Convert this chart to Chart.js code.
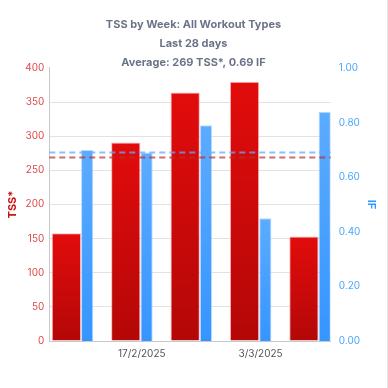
<!DOCTYPE html>
<html>
<head>
<meta charset="utf-8">
<script src="https://cdn.jsdelivr.net/npm/chart.js@4.4.1/dist/chart.umd.min.js"></script>
<style>
  html, body { margin: 0; padding: 0; background: #fff; }
  #wrap { width: 388px; height: 388px; box-sizing: border-box; border-right: 1px solid #e6e6e6; }
</style>
</head>
<body>
<div id="wrap"><canvas id="tss-chart"></canvas></div>
<script>
// Weekly data (week start dates, last 28 days)
const weekStarts = ['2025-02-10', '2025-02-17', '2025-02-24', '2025-03-03', '2025-03-10'];
const tssValues  = [158, 291, 364, 380, 153];
const ifValues   = [0.70, 0.69, 0.79, 0.45, 0.84];
const tickDates  = ['2025-02-17', '2025-03-03'];
const avgTss = 269;
const avgIf  = 0.69;
const titleLines = [
  'TSS by Week: All Workout Types',
  'Last 28 days',
  'Average: ' + avgTss + ' TSS*, ' + avgIf.toFixed(2) + ' IF',
];

(function () {
  'use strict';

  const DAY = 864e5;
  const toDay = s => Date.parse(s + 'T00:00:00Z') / DAY;

  function fmtDate(day) {
    const d = new Date(day * DAY);
    return d.getUTCDate() + '/' + (d.getUTCMonth() + 1) + '/' + d.getUTCFullYear();
  }

  // Vertical gradient from the top of each bar down to the axis
  function barGradient(top, bottom) {
    return ctx => {
      const chart = ctx.chart;
      const area  = chart.chartArea;
      if (!area || ctx.type !== 'data') return bottom;
      const scale = chart.scales[ctx.dataset.yAxisID];
      const yTop  = scale.getPixelForValue(ctx.parsed.y);
      const g = chart.ctx.createLinearGradient(0, yTop, 0, area.bottom);
      g.addColorStop(0, top);
      g.addColorStop(1, bottom);
      return g;
    };
  }

  // Dashed average lines across the plot
  const avgLines = {
    id: 'avgLines',
    afterDatasetsDraw(chart) {
      const { ctx, chartArea: a, scales } = chart;
      [
        [scales.yIf, avgIf, 'rgba(100,170,255,0.75)'],
        [scales.yTss, avgTss, 'rgba(185,45,45,0.7)'],
      ].forEach(([s, v, col]) => {
        const y = s.getPixelForValue(v);
        ctx.save();
        ctx.strokeStyle = col;
        ctx.lineWidth = 2;
        ctx.setLineDash([6, 4]);
        ctx.beginPath();
        ctx.moveTo(a.left, y);
        ctx.lineTo(a.right, y);
        ctx.stroke();
        ctx.restore();
      });
    },
  };

  const days = weekStarts.map(toDay);

  Chart.defaults.font.family = 'Inter, "Noto Sans", sans-serif';

  new Chart(document.getElementById('tss-chart'), {
    type: 'bar',
    data: {
      datasets: [
        {
          label: 'TSS*',
          data: days.map((d, i) => ({ x: d, y: tssValues[i] })),
          yAxisID: 'yTss',
          backgroundColor: barGradient('#e20c0c', '#b40707'),
          borderColor: 'rgba(255,150,150,0.7)',
          borderWidth: 1,
          categoryPercentage: 0.7,
          barPercentage: 1.41,
        },
        {
          label: 'IF',
          data: days.map((d, i) => ({ x: d, y: ifValues[i] })),
          yAxisID: 'yIf',
          backgroundColor: barGradient('#5cacff', '#3595ff'),
          borderColor: 'rgba(170,210,255,0.8)',
          borderWidth: 1,
          categoryPercentage: 0.7,
          barPercentage: 0.59,
        },
      ],
    },
    options: {
      responsive: true,
      maintainAspectRatio: false,
      animation: false,
      layout: { padding: 0 },
      plugins: {
        legend: { display: false },
        tooltip: { enabled: false },
        title: {
          display: true,
          text: titleLines,
          color: '#6b7487',
          font: { size: 11, weight: 'bold', lineHeight: 1.727 },
          padding: { top: 15.5, bottom: -4.5 },
        },
      },
      scales: {
        x: {
          type: 'linear',
          min: days[0] - 3.24,
          max: days[days.length - 1] + 1.93,
          offset: false,
          grid: { display: false, drawTicks: false },
          border: { color: '#c8c8c8', width: 1 },
          afterBuildTicks: s => { s.ticks = tickDates.map(t => ({ value: toDay(t) })); },
          ticks: {
            color: '#555',
            font: { size: 10 },
            padding: 7,
            labelOffset: 5.6,
            maxRotation: 0,
            callback: v => fmtDate(v),
          },
          afterFit: s => { s.height = 47; },
        },
        yTss: {
          position: 'left',
          min: 0,
          max: 400,
          grid: {
            color: c => (c.tick && c.tick.value === 400 ? 'rgba(0,0,0,0)' : '#e2e2e2'),
            drawTicks: false,
          },
          border: { color: '#c8c8c8', width: 1 },
          ticks: { stepSize: 50, color: '#df4a4a', font: { size: 10 }, padding: 5 },
          title: {
            display: true,
            text: 'TSS*',
            color: '#c81414',
            font: { size: 11, weight: 'bold' },
            padding: { top: 6, bottom: 4 },
          },
          afterFit: s => { s.width = 49.3; },
        },
        yIf: {
          position: 'right',
          min: 0,
          max: 1,
          grid: { display: false, drawTicks: false },
          border: { display: false },
          ticks: {
            stepSize: 0.2,
            color: '#4da6ff',
            font: { size: 10 },
            padding: 8,
            callback: v => v.toFixed(2),
          },
          title: {
            display: true,
            text: 'IF',
            color: '#3399ff',
            font: { size: 11, weight: 'bold' },
            padding: { top: 9, bottom: 4 },
          },
          afterFit: s => { s.width = 56.3; },
        },
      },
    },
    plugins: [avgLines],
  });
}());
</script>
</body>
</html>
